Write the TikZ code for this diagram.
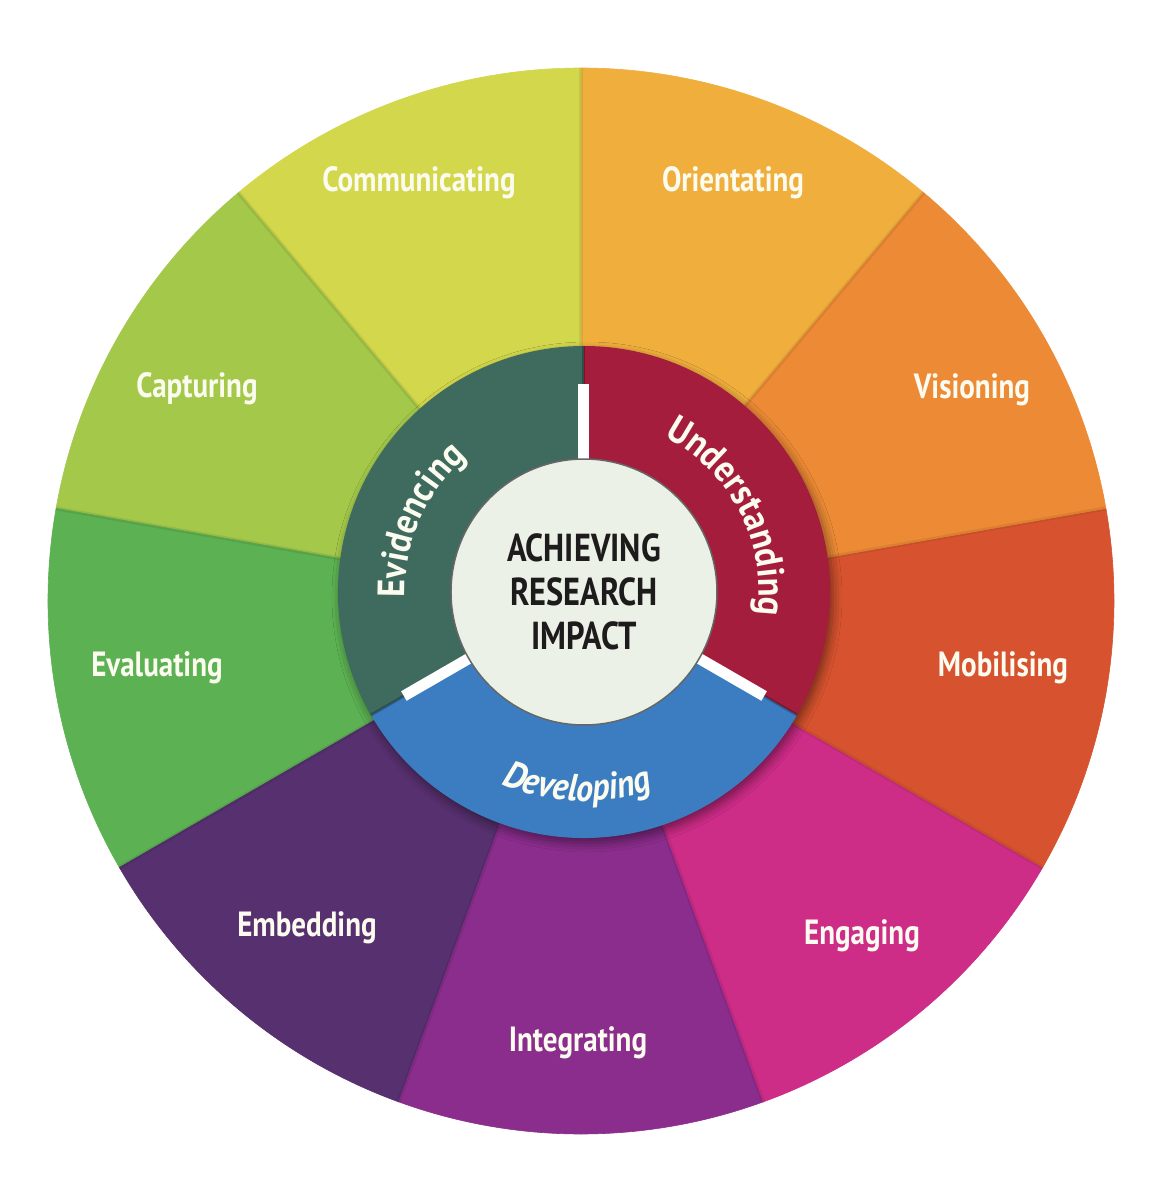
\documentclass[tikz,border=0pt]{standalone}
\usepackage{fontspec}
\setmainfont{PT Sans}
\newfontfamily\lblfont[FakeStretch=0.83]{PT Sans}
\newfontfamily\arcfont[FakeStretch=0.9]{PT Sans}
\usetikzlibrary{decorations.text,shadows.blur}
\definecolor{cOri}{HTML}{F0AF3D}
\definecolor{cCom}{HTML}{D3D74B}
\definecolor{cCap}{HTML}{A3C84A}
\definecolor{cEva}{HTML}{5CB152}
\definecolor{cEmb}{HTML}{57306F}
\definecolor{cInt}{HTML}{8A2D8C}
\definecolor{cEng}{HTML}{CD2C87}
\definecolor{cMob}{HTML}{D7532F}
\definecolor{cVis}{HTML}{EC8A35}
\definecolor{cUnd}{HTML}{A51D3C}
\definecolor{cDev}{HTML}{3B7DC0}
\definecolor{cEvi}{HTML}{3F6B5E}
\definecolor{cCen}{HTML}{EBF1E7}
\definecolor{cTxt}{HTML}{1E1B1C}
\definecolor{cLbl}{HTML}{FBFBEF}
\begin{document}
\begin{tikzpicture}[x=1pt,y=1pt,
  lbl/.style={font=\lblfont\bfseries\fontsize{35}{38}\selectfont, text=cLbl, inner sep=0pt},
  arctext/.style={decorate, decoration={text along path, text align=center, text={#1}}},
  gapline/.style={white, line width=11pt},
  seamline/.style={black, opacity=0.25, line width=3pt}]
\useasboundingbox (-581,-599) rectangle (582,601);
\fill[white] (-581,-599) rectangle (582,601);
\coordinate (O) at (0,0);
\coordinate (IC) at (3,9);

% outer ring of nine sectors
\foreach \a/\c in {50/cOri, 90/cCom, 130/cCap, 170/cEva, 210/cEmb, 250/cInt, 290/cEng, 330/cMob, 370/cVis}{
  \filldraw[fill=\c, draw=\c, line width=0.6pt] (O) -- (\a:533) arc[start angle=\a, end angle=\a+40, radius=533] -- cycle;
}
\foreach \a in {50,90,130,170,210,250,290,330,370}{
  \draw[black, opacity=0.07, line width=4pt] (\a:240) -- (\a:533);
}

% outer labels
\node[lbl] (communicating) at (-162,418) {Communicating};
\node[lbl] (orientating)   at (152,418)  {Orientating};
\node[lbl] (visioning)     at (391,211)  {Visioning};
\node[lbl] (mobilising)    at (422,-67)  {Mobilising};
\node[lbl] (engaging)      at (281,-335) {Engaging};
\node[lbl] (integrating)   at (-3,-442)  {Integrating};
\node[lbl] (embedding)     at (-274,-327){Embedding};
\node[lbl] (evaluating)    at (-424,-67) {Evaluating};
\node[lbl] (capturing)     at (-384,212) {Capturing};

% inner ring
\begin{scope}[shift={(3,9)}]
  \path[blur shadow={shadow xshift=3pt, shadow yshift=-5pt, shadow blur radius=9pt, shadow opacity=45}] (0,0) circle (246);
  \fill[cUnd] (0,0) -- (90:246) arc[start angle=90, end angle=-30, radius=246] -- cycle;
  \fill[cDev] (0,0) -- (-30:246) arc[start angle=-30, end angle=-150, radius=246] -- cycle;
  \fill[cEvi] (0,0) -- (-150:246) arc[start angle=-150, end angle=-270, radius=246] -- cycle;
  \foreach \a in {90,-30,-150}{
    \draw[seamline] (\a:205) -- (\a:246);
    \draw[gapline] (\a:130) -- (\a:208);
  }
  \path[arctext={|\arcfont\bfseries\fontsize{38}{40}\selectfont\color{cLbl}|Understanding}]
    (75:175) arc[start angle=75, end angle=-20, radius=175];
  \path[arctext={|\arcfont\bfseries\fontsize{38}{40}\selectfont\color{cLbl}|Evidencing}]
    (200:179) arc[start angle=200, end angle=113, radius=179];
  \path[arctext={|\arcfont\bfseries\itshape\fontsize{38}{40}\selectfont\color{cLbl}|Developing}]
    (-137:209) arc[start angle=-137, end angle=-47, radius=209];
\end{scope}

% hub
\node[circle, minimum size=266pt, inner sep=0pt, fill=cCen, draw=black!60, line width=1.5pt,
      align=center, text=cTxt, font=\lblfont\bfseries\fontsize{39}{44}\selectfont] (hub) at (IC)
      {ACHIEVING\\RESEARCH\\IMPACT};
\end{tikzpicture}
\end{document}
